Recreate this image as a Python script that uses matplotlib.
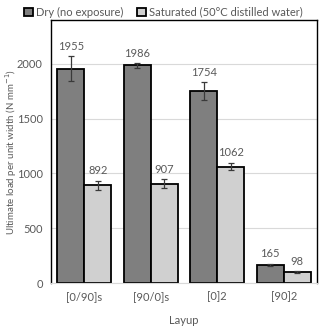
import matplotlib.pyplot as plt
import numpy as np

plt.rcParams["font.family"] = ["Lato", "DejaVu Sans"]

layups = ["[0/90]s", "[90/0]s", "[0]2", "[90]2"]
dry = [1955, 1986, 1754, 165]
dry_err = [115, 20, 80, 10]
sat = [892, 907, 1062, 98]
sat_err = [40, 38, 35, 10]

TEXT = "#595959"

fig = plt.figure(figsize=(3.2, 3.29), dpi=100)
ax = fig.add_axes([51 / 320, 1 - 283 / 329, 266 / 320, 263 / 329])

x = np.arange(len(layups))
w = 0.405
err_kw = dict(ecolor="#3a3a3a", elinewidth=0.9, capsize=2.2, capthick=0.9)
ax.bar(x - w / 2, dry, w, yerr=dry_err, color="#7f7f7f", edgecolor="black",
       linewidth=1.3, error_kw=err_kw, label="Dry (no exposure)", zorder=2)
ax.bar(x + w / 2, sat, w, yerr=sat_err, color="#d0d0d0", edgecolor="black",
       linewidth=1.3, error_kw=err_kw, label="Saturated (50\u00b0C distilled water)", zorder=2)

for xi, v, e in zip(x - w / 2, dry, dry_err):
    ax.text(xi, v + e + 40, str(v), ha="center", va="bottom", fontsize=8, color=TEXT)
for xi, v, e in zip(x + w / 2, sat, sat_err):
    ax.text(xi, v + e + 40, str(v), ha="center", va="bottom", fontsize=8, color=TEXT)

ax.set_xlim(-0.5, 3.5)
ax.set_ylim(0, 2400)
ax.set_yticks([0, 500, 1000, 1500, 2000])
ax.set_xticks(x, layups)
ax.tick_params(length=0, labelsize=8, colors=TEXT, pad=6)
ax.grid(axis="y", color="#d9d9d9", linewidth=0.8, zorder=0)
ax.set_axisbelow(True)
for side in ("top", "right", "left"):
    ax.spines[side].set_color("black")
    ax.spines[side].set_linewidth(1.0)
ax.spines["bottom"].set_color("#d9d9d9")
fig.text(11 / 320, 1 - 152 / 329, "Ultimate load per unit width (N mm$^{-1}$)",
         rotation=90, ha="center", va="center", fontsize=7, color=TEXT)
ax.set_xlabel("Layup", fontsize=8, color=TEXT, labelpad=9)

fig.legend(loc="upper center", bbox_to_anchor=(0.51, 1.01), ncol=2, frameon=False,
           fontsize=8, handlelength=0.8, handleheight=0.8, handletextpad=0.3,
           columnspacing=1.2, labelcolor=TEXT)

fig.savefig("out.png", dpi=100, facecolor="white")
